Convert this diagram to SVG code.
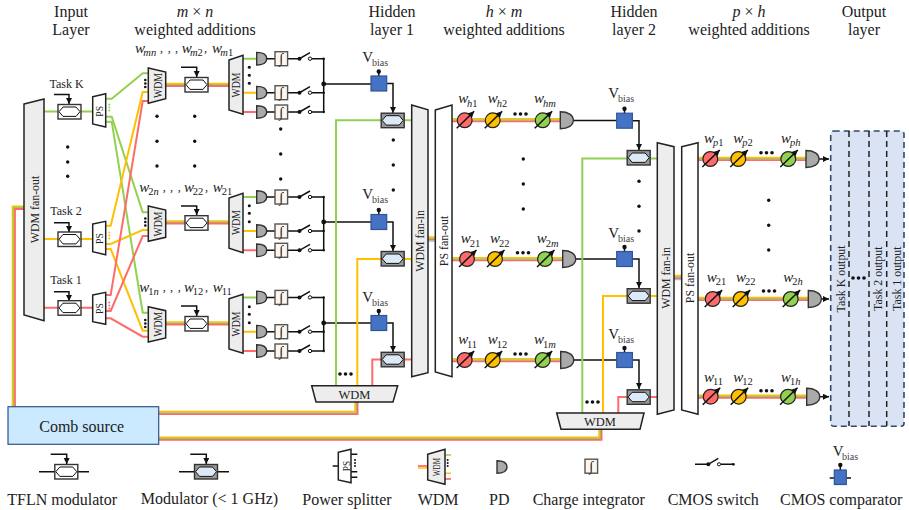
<svg xmlns="http://www.w3.org/2000/svg" width="909" height="510" viewBox="0 0 909 510">
<style>
text{font-family:"Liberation Serif","Times New Roman",serif;fill:#222}
.h{font-size:16px;text-anchor:middle}
.l{font-size:16px}
.t{font-size:12px;text-anchor:middle}
.wd{font-size:12.5px;text-anchor:middle}
.ps{font-size:11px;text-anchor:middle}
.big{font-size:13.5px;text-anchor:middle}
.w{font-size:15px;font-style:italic}
.s{font-size:10.5px;font-style:normal}
.i{font-style:italic}
.c{font-size:12px}
.v{font-size:15px}
.vs{font-size:10px;fill:#444}
.gn{stroke:#92d050;stroke-width:2;fill:none}
.ye{stroke:#ffc000;stroke-width:2;fill:none}
.re{stroke:#ff6b6b;stroke-width:2;fill:none}
.g2{stroke:#92d050;stroke-width:1.5;fill:none}
.y2{stroke:#ffc000;stroke-width:1.5;fill:none}
.r2{stroke:#ff6b6b;stroke-width:1.8;fill:none}
.b{stroke:#111;stroke-width:1.5;fill:none}
.ba{stroke:#111;stroke-width:1.5;fill:none;marker-end:url(#ah)}
.box{fill:#ededed;stroke:#222;stroke-width:1.5}
.wht{fill:#fff;stroke:#222;stroke-width:1.5}
.d{fill:#111}
</style>
<defs>
<marker id="ah" markerUnits="userSpaceOnUse" markerWidth="7" markerHeight="7" refX="6" refY="3" orient="auto"><path d="M0,0L6,3L0,6Z" fill="#111"/></marker>
<g id="mod"><rect x="0.5" y="0.5" width="23" height="14.5" fill="#fff" stroke="#333" stroke-width="1.4"/><path d="M1.5,7.7L5.5,3H18.5L22.5,7.7L18.5,12.4H5.5Z" fill="#fff" stroke="#111" stroke-width="1"/></g>
<g id="gmod"><rect x="0.5" y="0.5" width="23" height="14.5" fill="#999" stroke="#333" stroke-width="1.4"/><path d="M1.5,7.7L5.5,3H18.5L22.5,7.7L18.5,12.4H5.5Z" fill="#dce9f7" stroke="#111" stroke-width="1"/></g>
<path id="pds" d="M0,-6.3C6,-6.3 10,-4 10,0C10,4 6,6.3 0,6.3Z" fill="#aaa" stroke="#333" stroke-width="1.4"/>
<path id="pdb" d="M0,-8.5C8,-8.5 13,-5 13,0C13,5 8,8.5 0,8.5Z" fill="#aaa" stroke="#333" stroke-width="1.4"/>
<g id="integ"><rect x="0" y="-7" width="12.6" height="14" fill="#fdf6ee" stroke="#555" stroke-width="1.4"/><text x="6.3" y="4.5" font-size="14" text-anchor="middle" font-style="italic">∫</text></g>
<g id="ro"><use href="#pds" x="256.7"/><path class="b" d="M266.7,0H275M287.6,0H299.5L310,-6M312,0H323.7"/><use href="#integ" x="275"/><circle class="d" cx="299.5" cy="0" r="2"/><circle cx="310" cy="0" r="1.7" fill="#fff" stroke="#111"/><circle class="d" cx="323.7" cy="0" r="1.2"/></g>
<g id="cmp"><path class="b" d="M7.8,-4.5V-12"/><circle class="d" cx="7.8" cy="-12" r="2.2"/><rect x="0" y="-7.5" width="15.7" height="15" fill="#4472c4" stroke="#2f5597" stroke-width="1.2"/></g>
<g id="wt"><circle r="7.4" stroke="#222" stroke-width="1.2"/><path d="M-8,8L9.5,-9" stroke="#111" stroke-width="1.5" fill="none" marker-end="url(#ah)"/></g>
</defs>

<g id="headers">
<text class="h" x="71" y="16.7">Input</text><text class="h" x="71" y="35">Layer</text>
<text class="h" x="195" y="16.7"><tspan class="i">m</tspan> × <tspan class="i">n</tspan></text><text class="h" x="195" y="35">weighted additions</text>
<text class="h" x="392" y="16.7">Hidden</text><text class="h" x="392" y="35">layer 1</text>
<text class="h" x="504" y="16.7"><tspan class="i">h</tspan> × <tspan class="i">m</tspan></text><text class="h" x="504" y="35">weighted additions</text>
<text class="h" x="634" y="16.7">Hidden</text><text class="h" x="634" y="35">layer 2</text>
<text class="h" x="749" y="16.7"><tspan class="i">p</tspan> × <tspan class="i">h</tspan></text><text class="h" x="749" y="35">weighted additions</text>
<text class="h" x="864" y="16.7">Output</text><text class="h" x="864" y="35">layer</text>
</g>

<g id="connectors">
<path class="y2" d="M12.4,407V206.3H24"/><path class="g2" d="M13.7,407V207.6H24"/><path class="r2" d="M15,407V209H24"/>
<path class="y2" d="M158.7,411.6H355V402"/><path class="g2" d="M158.7,412.9H356.3V402"/><path class="r2" d="M158.7,414.2H357.6V402"/>
<path class="y2" d="M158.7,437.2H599V429"/><path class="g2" d="M158.7,438.5H600.3V429"/><path class="r2" d="M158.7,439.8H601.6V429"/>
<path class="gn" d="M44,111.5H92.7"/><path class="ye" d="M44,239H92.7"/><path class="re" d="M44,307.7H92.7"/>
<path class="gn" d="M105.7,98.7H111.7L142.7,73.3H148.3"/>
<path class="gn" d="M105.7,116.7H111.7L142.7,212.3H148.3"/>
<path class="gn" d="M105.7,121.7H111.7L142.7,312.7H148.3"/>
<path class="ye" d="M105.7,225.7H110.7L142.7,92H148.3"/>
<path class="ye" d="M105.7,244H110.7L142.7,230H148.3"/>
<path class="ye" d="M105.7,249H110.7L142.7,330.7H148.3"/>
<path class="re" d="M105.7,295H110.7L142.7,101H148.3"/>
<path class="re" d="M105.7,311H110.7L142.7,236H148.3"/>
<path class="re" d="M105.7,318.3H110.7L142.7,336.7H148.3"/>
<path class="y2" d="M165.7,83.4H229"/><path class="g2" d="M165.7,84.7H229"/><path class="r2" d="M165.7,86H229"/>
<path class="y2" d="M165.7,220.9H229"/><path class="g2" d="M165.7,222.2H229"/><path class="r2" d="M165.7,223.5H229"/>
<path class="y2" d="M165.7,321.9H229"/><path class="g2" d="M165.7,323.2H229"/><path class="r2" d="M165.7,324.5H229"/>
<path class="gn" d="M243,58.7H257M243,197H257M243,297.4H257"/>
<path class="ye" d="M243,92.7H257M243,231H257M243,331.7H257"/>
<path class="re" d="M243,112H257M243,250.3H257M243,351H257"/>
<path class="ba" d="M54,94.5H69V104"/><path class="ba" d="M54,222.7H69V232"/><path class="ba" d="M54,291.7H69V301"/>
<path class="ba" d="M181,67.3H196.7V77"/><path class="ba" d="M181,206H196.7V215"/><path class="ba" d="M181,306H196.7V316"/>
<path class="b" d="M323.7,58.7V112M323.7,84H371M323.7,197V250.3M323.7,222H371M323.7,297.4V351M323.7,323H371"/>
<path class="ba" d="M386.7,83.5H393V113"/><path class="ba" d="M386.7,222H393V251"/><path class="ba" d="M386.7,323H393V352"/>
<path class="gn" d="M336,386V120.3H412"/><path class="ye" d="M357.3,386V259H412"/><path class="re" d="M372.3,386V359.5H412"/>
<path class="y2" d="M428,237H435.5"/><path class="g2" d="M428,238.4H435.5"/><path class="r2" d="M428,239.8H435.5"/><path d="M428,241.1H435.5" stroke="#9dc3e6" stroke-width="1.3"/>
<path class="y2" d="M452,118.8H561"/><path class="g2" d="M452,120.1H561"/><path class="r2" d="M452,121.4H561"/>
<path class="y2" d="M452,257.8H563"/><path class="g2" d="M452,259.1H563"/><path class="r2" d="M452,260.4H563"/>
<path class="y2" d="M452,358.8H561"/><path class="g2" d="M452,360.1H561"/><path class="r2" d="M452,361.4H561"/>
<path class="b" d="M573.3,120.5H616.7M575.7,259H616.7M573.7,360H616.7"/>
<path class="ba" d="M632.4,120.7H639V150"/><path class="ba" d="M632.4,259H639V288"/><path class="ba" d="M632.4,360H639V389"/>
<path class="gn" d="M582.3,414V158.5H658"/><path class="ye" d="M603,414V296H658"/><path class="re" d="M618.3,414V397H658"/>
<path class="y2" d="M674,275.5H681.7"/><path class="g2" d="M674,276.9H681.7"/><path class="r2" d="M674,278.3H681.7"/><path d="M674,279.6H681.7" stroke="#9dc3e6" stroke-width="1.3"/>
<path class="y2" d="M698,157.5H806.5"/><path class="g2" d="M698,158.8H806.5"/><path class="r2" d="M698,160.1H806.5"/>
<path class="y2" d="M698,297.5H808.5"/><path class="g2" d="M698,298.8H808.5"/><path class="r2" d="M698,300.1H808.5"/>
<path class="y2" d="M698,395.2H807"/><path class="g2" d="M698,396.5H807"/><path class="r2" d="M698,397.8H807"/>
<path class="ba" d="M819,159H829"/><path class="ba" d="M821,299H829"/><path class="ba" d="M819.5,396.7H829"/>
</g>

<g id="fanout"><polygon class="box" points="24,104 44,99 44,320.7 24,315"/><text class="big" transform="translate(38.8,209.5) rotate(-90) scale(.88,1)">WDM fan-out</text></g>

<g id="task-k"><text class="t" x="66.5" y="88">Task K</text><use href="#mod" x="57.5" y="104"/><polygon class="wht" points="92.7,96.7 105.7,93.7 105.7,127 92.7,124"/><text class="ps" transform="translate(103.3,111.3) rotate(-90) scale(.88,1)">PS</text><circle cx="109.3" cy="104.5" r="1" fill="#92d050"/><circle cx="109.3" cy="107.5" r="1" fill="#92d050"/><circle cx="109.3" cy="110.5" r="1" fill="#92d050"/></g>
<g id="task-2"><text class="t" x="66" y="215">Task 2</text><use href="#mod" x="57.5" y="231.5"/><polygon class="wht" points="92.7,224 105.7,221.3 105.7,254.7 92.7,251.7"/><text class="ps" transform="translate(103.3,238.5) rotate(-90) scale(.88,1)">PS</text><circle cx="109.3" cy="232.5" r="1" fill="#ffc000"/><circle cx="109.3" cy="235.5" r="1" fill="#ffc000"/><circle cx="109.3" cy="238.5" r="1" fill="#ffc000"/></g>
<g id="task-1"><text class="t" x="66" y="284">Task 1</text><use href="#mod" x="57.5" y="300.2"/><polygon class="wht" points="92.7,295 105.7,292.3 105.7,324.3 92.7,321.7"/><text class="ps" transform="translate(103.3,308.5) rotate(-90) scale(.88,1)">PS</text><circle cx="109.3" cy="302.5" r="1" fill="#ff6b6b"/><circle cx="109.3" cy="305.5" r="1" fill="#ff6b6b"/><circle cx="109.3" cy="308.5" r="1" fill="#ff6b6b"/></g>

<g id="mux-m">
<polygon class="box" points="148.3,68 165.7,72 165.7,98.7 148.3,103.3"/><text class="wd" transform="translate(161.5,85.5) rotate(-90) scale(.78,1)">WDM</text>
<use href="#mod" x="184.5" y="77"/>
<polygon class="box" points="229,60 243,55.3 243,114.3 229,110"/><text class="wd" transform="translate(240,85) rotate(-90) scale(.78,1)">WDM</text>
<circle class="d" cx="145.3" cy="80" r="1.3"/><circle class="d" cx="145.3" cy="83.5" r="1.3"/><circle class="d" cx="145.3" cy="87" r="1.3"/>
<circle class="d" cx="249.3" cy="67.3" r="1.5"/><circle class="d" cx="249.3" cy="75.3" r="1.5"/><circle class="d" cx="249.3" cy="83.3" r="1.5"/>
</g>
<g id="mux-2">
<polygon class="box" points="148.3,206 165.7,210 165.7,237.3 148.3,241.3"/><text class="wd" transform="translate(161.5,224) rotate(-90) scale(.78,1)">WDM</text>
<use href="#mod" x="184.5" y="215.2"/>
<polygon class="box" points="229,198 243,193.3 243,252.7 229,248.3"/><text class="wd" transform="translate(240,222.5) rotate(-90) scale(.78,1)">WDM</text>
<circle class="d" cx="145.3" cy="218.5" r="1.3"/><circle class="d" cx="145.3" cy="222" r="1.3"/><circle class="d" cx="145.3" cy="225.5" r="1.3"/>
<circle class="d" cx="249.3" cy="205.7" r="1.5"/><circle class="d" cx="249.3" cy="213.3" r="1.5"/><circle class="d" cx="249.3" cy="221.7" r="1.5"/>
</g>
<g id="mux-1">
<polygon class="box" points="148.3,306.7 165.7,310.7 165.7,338 148.3,342"/><text class="wd" transform="translate(161.5,324.2) rotate(-90) scale(.78,1)">WDM</text>
<use href="#mod" x="184.5" y="316"/>
<polygon class="box" points="229,298.7 243,294.3 243,353.3 229,349"/><text class="wd" transform="translate(240,324) rotate(-90) scale(.78,1)">WDM</text>
<circle class="d" cx="145.3" cy="320" r="1.3"/><circle class="d" cx="145.3" cy="323.5" r="1.3"/><circle class="d" cx="145.3" cy="327" r="1.3"/>
<circle class="d" cx="249.3" cy="306.7" r="1.5"/><circle class="d" cx="249.3" cy="314.3" r="1.5"/><circle class="d" cx="249.3" cy="322.7" r="1.5"/>
</g>

<g id="readouts">
<use href="#ro" y="58.7"/><use href="#ro" y="92.7"/><use href="#ro" y="112"/>
<use href="#ro" y="197"/><use href="#ro" y="231"/><use href="#ro" y="250.3"/>
<use href="#ro" y="297.4"/><use href="#ro" y="331.7"/><use href="#ro" y="351"/>
<circle class="d" cx="323.7" cy="84" r="2.4"/><circle class="d" cx="323.7" cy="222" r="2.4"/><circle class="d" cx="323.7" cy="323" r="2.4"/>
</g>

<g id="dots">
<g class="d">
<circle cx="67.7" cy="147" r="1.7"/><circle cx="67.7" cy="162" r="1.7"/><circle cx="67.7" cy="176.3" r="1.7"/>
<circle cx="157" cy="116.3" r="1.7"/><circle cx="157" cy="141.3" r="1.7"/><circle cx="157" cy="166" r="1.7"/>
<circle cx="194.7" cy="116.3" r="1.7"/><circle cx="194.7" cy="141.3" r="1.7"/><circle cx="194.7" cy="166" r="1.7"/>
<circle cx="280.7" cy="129" r="1.7"/><circle cx="280.7" cy="154" r="1.7"/><circle cx="280.7" cy="179" r="1.7"/>
<circle cx="393.3" cy="140" r="1.7"/><circle cx="393.3" cy="165" r="1.7"/><circle cx="393.3" cy="190" r="1.7"/>
<circle cx="523.3" cy="159" r="1.7"/><circle cx="523.3" cy="184" r="1.7"/><circle cx="523.3" cy="209" r="1.7"/>
<circle cx="639" cy="181.3" r="1.7"/><circle cx="639" cy="206.3" r="1.7"/><circle cx="639" cy="231" r="1.7"/>
<circle cx="768.7" cy="200.3" r="1.7"/><circle cx="768.7" cy="225.3" r="1.7"/><circle cx="768.7" cy="250" r="1.7"/>
<circle cx="340" cy="374" r="1.8"/><circle cx="345.5" cy="374" r="1.8"/><circle cx="351" cy="374" r="1.8"/>
<circle cx="587" cy="402" r="1.8"/><circle cx="592.5" cy="402" r="1.8"/><circle cx="598" cy="402" r="1.8"/>
<circle cx="515" cy="114" r="1.8"/><circle cx="520.5" cy="114" r="1.8"/><circle cx="526" cy="114" r="1.8"/>
<circle cx="517.5" cy="252.7" r="1.8"/><circle cx="523" cy="252.7" r="1.8"/><circle cx="528.5" cy="252.7" r="1.8"/>
<circle cx="515" cy="354" r="1.8"/><circle cx="520.5" cy="354" r="1.8"/><circle cx="526" cy="354" r="1.8"/>
<circle cx="761" cy="152.7" r="1.8"/><circle cx="766.5" cy="152.7" r="1.8"/><circle cx="772" cy="152.7" r="1.8"/>
<circle cx="763.5" cy="291" r="1.8"/><circle cx="769" cy="291" r="1.8"/><circle cx="774.5" cy="291" r="1.8"/>
<circle cx="761" cy="390.7" r="1.8"/><circle cx="766.5" cy="390.7" r="1.8"/><circle cx="772" cy="390.7" r="1.8"/>
</g>
</g>

<g id="w-labels-m">
<text class="w" x="135" y="52.7">w<tspan class="s" x="143.3" dy="3"><tspan class="i">mn</tspan></tspan></text><text class="c" x="160" y="52">,</text><text class="c" x="167.7" y="52">,</text><text class="c" x="175" y="52">,</text><text class="w" x="181.7" y="52.7">w<tspan class="s" x="190" dy="3"><tspan class="i">m</tspan>2</tspan></text><text class="c" x="204" y="52">,</text><text class="w" x="212" y="52.7">w<tspan class="s" x="220.3" dy="3"><tspan class="i">m</tspan>1</tspan></text>
<text class="w" x="139.3" y="191.7">w<tspan class="s" x="148.3" dy="3">2<tspan class="i">n</tspan></tspan></text><text class="c" x="162.7" y="191">,</text><text class="c" x="170" y="191">,</text><text class="c" x="177.7" y="191">,</text><text class="w" x="184" y="191.7">w<tspan class="s" x="192.7" dy="3">22</tspan></text><text class="c" x="205" y="191">,</text><text class="w" x="212.7" y="191.7">w<tspan class="s" x="221.7" dy="3">21</tspan></text>
<text class="w" x="139.3" y="291.7">w<tspan class="s" x="148.3" dy="3">1<tspan class="i">n</tspan></tspan></text><text class="c" x="162.7" y="291">,</text><text class="c" x="170" y="291">,</text><text class="c" x="177.7" y="291">,</text><text class="w" x="184" y="291.7">w<tspan class="s" x="192.7" dy="3">12</tspan></text><text class="c" x="205" y="291">,</text><text class="w" x="212.7" y="291.7">w<tspan class="s" x="221.7" dy="3">11</tspan></text>
</g>

<g id="hidden-1">
<g id="cmp-1a"><text class="v" x="362.3" y="61.7">V</text><text class="vs" x="372" y="65.7">bias</text><use href="#cmp" x="371" y="83.5"/><use href="#gmod" x="380.7" y="112.7"/></g>
<g id="cmp-1b"><text class="v" x="362.3" y="199.3">V</text><text class="vs" x="372" y="203.3">bias</text><use href="#cmp" x="371" y="222"/><use href="#gmod" x="380.7" y="251"/></g>
<g id="cmp-1c"><text class="v" x="362.3" y="301.7">V</text><text class="vs" x="372" y="305.7">bias</text><use href="#cmp" x="371" y="323"/><use href="#gmod" x="380.7" y="351.8"/></g>
<g id="wdm-1"><polygon class="box" points="311.7,385.7 397.7,385.7 393,402 316,402"/><text class="wd" x="354.5" y="399">WDM</text></g>
<g id="fanin-1"><polygon class="box" points="411.7,105 428,109.7 428,372.7 411.7,376.7"/><text class="big" transform="translate(424.3,241) rotate(-90) scale(.88,1)">WDM fan-in</text></g>
<g id="psout-1"><polygon class="wht" points="435.3,110 452,105 452,376.7 435.3,372"/><text class="big" transform="translate(448.3,241) rotate(-90) scale(.88,1)">PS fan-out</text></g>
</g>

<g id="bank-h">
<use href="#wt" x="464.7" y="120.3" fill="#ff6b6b"/><use href="#wt" x="492.7" y="120.3" fill="#ffc000"/><use href="#wt" x="542.7" y="120.3" fill="#92d050"/><use href="#pdb" x="560.3" y="120.3"/>
<text class="w" x="458.3" y="103">w<tspan class="s" x="467" dy="3.5"><tspan class="i">h</tspan>1</tspan></text><text class="w" x="487.7" y="103">w<tspan class="s" x="496.7" dy="3.5"><tspan class="i">h</tspan>2</tspan></text><text class="w" x="534" y="103">w<tspan class="s" x="543" dy="3.5"><tspan class="i">hm</tspan></tspan></text>
<use href="#wt" x="467" y="259" fill="#ff6b6b"/><use href="#wt" x="495" y="259" fill="#ffc000"/><use href="#wt" x="545" y="259" fill="#92d050"/><use href="#pdb" x="562.7" y="259"/>
<text class="w" x="460.7" y="243.3">w<tspan class="s" x="469.7" dy="3.5">21</tspan></text><text class="w" x="490" y="243.3">w<tspan class="s" x="499" dy="3.5">22</tspan></text><text class="w" x="536.7" y="243.3">w<tspan class="s" x="545.7" dy="3.5">2<tspan class="i">m</tspan></tspan></text>
<use href="#wt" x="464.7" y="360" fill="#ff6b6b"/><use href="#wt" x="492.7" y="360" fill="#ffc000"/><use href="#wt" x="542.7" y="360" fill="#92d050"/><use href="#pdb" x="560.7" y="360"/>
<text class="w" x="458.3" y="344">w<tspan class="s" x="467" dy="3.5">11</tspan></text><text class="w" x="487.7" y="344">w<tspan class="s" x="496.7" dy="3.5">12</tspan></text><text class="w" x="534" y="344">w<tspan class="s" x="543" dy="3.5">1<tspan class="i">m</tspan></tspan></text>
</g>

<g id="hidden-2">
<g id="cmp-2a"><text class="v" x="608.3" y="98.3">V</text><text class="vs" x="618" y="102.3">bias</text><use href="#cmp" x="616.7" y="120.7"/><use href="#gmod" x="626.7" y="150"/></g>
<g id="cmp-2b"><text class="v" x="608.3" y="238.3">V</text><text class="vs" x="618" y="242.3">bias</text><use href="#cmp" x="616.7" y="259"/><use href="#gmod" x="626.7" y="288.2"/></g>
<g id="cmp-2c"><text class="v" x="608.3" y="339.3">V</text><text class="vs" x="618" y="343.3">bias</text><use href="#cmp" x="616.7" y="360"/><use href="#gmod" x="626.7" y="389.3"/></g>
<g id="wdm-2"><polygon class="box" points="556.7,413 644,413 640,429.3 561,429.3"/><text class="wd" x="600" y="425.7">WDM</text></g>
<g id="fanin-2"><polygon class="box" points="657.3,142.7 674,146.7 674,410 657.3,414.3"/><text class="big" transform="translate(670,278) rotate(-90) scale(.88,1)">WDM fan-in</text></g>
<g id="psout-2"><polygon class="wht" points="681.7,146.7 698,142.7 698,414.3 681.7,410"/><text class="big" transform="translate(694,278) rotate(-90) scale(.88,1)">PS fan-out</text></g>
</g>

<g id="bank-p">
<use href="#wt" x="710.3" y="159" fill="#ff6b6b"/><use href="#wt" x="738.3" y="159" fill="#ffc000"/><use href="#wt" x="788.3" y="159" fill="#92d050"/><use href="#pdb" x="806" y="159"/>
<text class="w" x="704" y="142.7">w<tspan class="s" x="713" dy="3.5"><tspan class="i">p</tspan>1</tspan></text><text class="w" x="733.3" y="142.7">w<tspan class="s" x="742.3" dy="3.5"><tspan class="i">p</tspan>2</tspan></text><text class="w" x="781" y="142.7">w<tspan class="s" x="790" dy="3.5"><tspan class="i">ph</tspan></tspan></text>
<use href="#wt" x="712.7" y="299" fill="#ff6b6b"/><use href="#wt" x="740.7" y="299" fill="#ffc000"/><use href="#wt" x="790.7" y="299" fill="#92d050"/><use href="#pdb" x="808.3" y="299"/>
<text class="w" x="706.7" y="281.7">w<tspan class="s" x="715.7" dy="3.5">21</tspan></text><text class="w" x="736" y="281.7">w<tspan class="s" x="745" dy="3.5">22</tspan></text><text class="w" x="783.3" y="281.7">w<tspan class="s" x="792.3" dy="3.5">2<tspan class="i">h</tspan></tspan></text>
<use href="#wt" x="710.7" y="396.7" fill="#ff6b6b"/><use href="#wt" x="738.7" y="396.7" fill="#ffc000"/><use href="#wt" x="788" y="396.7" fill="#92d050"/><use href="#pdb" x="806.7" y="396.7"/>
<text class="w" x="704" y="381.7">w<tspan class="s" x="713" dy="3.5">11</tspan></text><text class="w" x="733.3" y="381.7">w<tspan class="s" x="742.3" dy="3.5">12</tspan></text><text class="w" x="781" y="381.7">w<tspan class="s" x="790" dy="3.5">1<tspan class="i">h</tspan></tspan></text>
</g>

<g id="output">
<rect x="830.7" y="131" width="73.3" height="295.3" rx="3" fill="#dae3f3" stroke="#2f4a6d" stroke-width="1.6" stroke-dasharray="6 4"/>
<path d="M849,131V426M869,131V426M886.7,131V426" fill="none" stroke="#222" stroke-width="1.5" stroke-dasharray="6 4"/>
<text class="big" transform="translate(845,279) rotate(-90) scale(.88,1)">Task K output</text>
<text class="big" transform="translate(881.7,278.7) rotate(-90) scale(.88,1)">Task 2 output</text>
<text class="big" transform="translate(900.7,278.7) rotate(-90) scale(.88,1)">Task 1 output</text>
<circle class="d" cx="853" cy="278" r="1.8"/><circle class="d" cx="858.5" cy="278" r="1.8"/><circle class="d" cx="864" cy="278" r="1.8"/>
</g>

<g id="comb"><rect x="8" y="406.7" width="150.7" height="37.6" fill="#cbe9ff" stroke="#2f5488" stroke-width="1.2"/><text x="81.7" y="431.7" font-size="16" text-anchor="middle">Comb source</text></g>

<g id="legend-tfln"><path class="b" d="M39,471.7H54.5M78,471.7H89"/><use href="#mod" x="54.3" y="464"/><path class="ba" d="M50.7,454.3H66.7V464"/><text class="l" x="7.3" y="505">TFLN modulator</text></g>
<g id="legend-mod"><path class="b" d="M179,471.7H194M218,471.7H229"/><use href="#gmod" x="194" y="464"/><path class="ba" d="M190.3,454.3H206.3V464"/><text class="l" x="140.7" y="504">Modulator (&lt; 1 GHz)</text></g>
<g id="legend-ps"><path class="b" d="M332.7,466H338.3M351,454.3H357.3M351,471.7H357.3M351,477.3H357.3"/><polygon class="wht" points="338.3,452.3 351,449.3 351,482.7 338.3,480"/><text class="ps" font-size="10" transform="translate(349.5,466) rotate(-90) scale(.85,1)">PS</text><circle class="d" cx="355" cy="460" r="1"/><circle class="d" cx="355" cy="463" r="1"/><circle class="d" cx="355" cy="466" r="1"/><text class="l" x="302.3" y="505">Power splitter</text></g>
<g id="legend-wdm"><path class="r2" d="M418,466H428"/><path class="y2" d="M418,468H428"/><path class="g2" d="M445,455H451"/><path class="y2" d="M445,473.3H451"/><path class="r2" d="M445,479H451"/><polygon class="box" points="427.7,454.3 445,449.3 445,484.3 427.7,480"/><text class="ps" transform="translate(440,467) rotate(-90) scale(.65,1)">WDM</text><circle class="d" cx="447.7" cy="460" r="1"/><circle class="d" cx="447.7" cy="463" r="1"/><circle class="d" cx="447.7" cy="466" r="1"/><text class="l" x="417.7" y="505">WDM</text></g>
<g id="legend-pd"><use href="#pds" x="497" y="467"/><text class="l" x="489" y="505">PD</text></g>
<g id="legend-int"><use href="#integ" x="585" y="466.2"/><text class="l" x="532.7" y="505">Charge integrator</text></g>
<g id="legend-sw"><path class="b" d="M695,464.3H708.3L718.3,458.3M721,464.3H733.3"/><circle class="d" cx="708.3" cy="464.3" r="2"/><circle cx="719" cy="464.3" r="1.6" fill="#fff" stroke="#111"/><circle class="d" cx="733.3" cy="464.3" r="1.4"/><text class="l" x="667.7" y="505">CMOS switch</text></g>
<g id="legend-cmp"><text class="v" x="832.7" y="455.7">V</text><text class="vs" x="842" y="459.7">bias</text><path class="b" d="M829.7,478H851M840.3,465V471"/><circle class="d" cx="840.3" cy="465" r="2.2"/><rect x="834.3" y="470" width="12" height="14.5" fill="#4472c4" stroke="#2f5597" stroke-width="1.2"/><text class="l" x="780" y="505">CMOS comparator</text></g>
</svg>
